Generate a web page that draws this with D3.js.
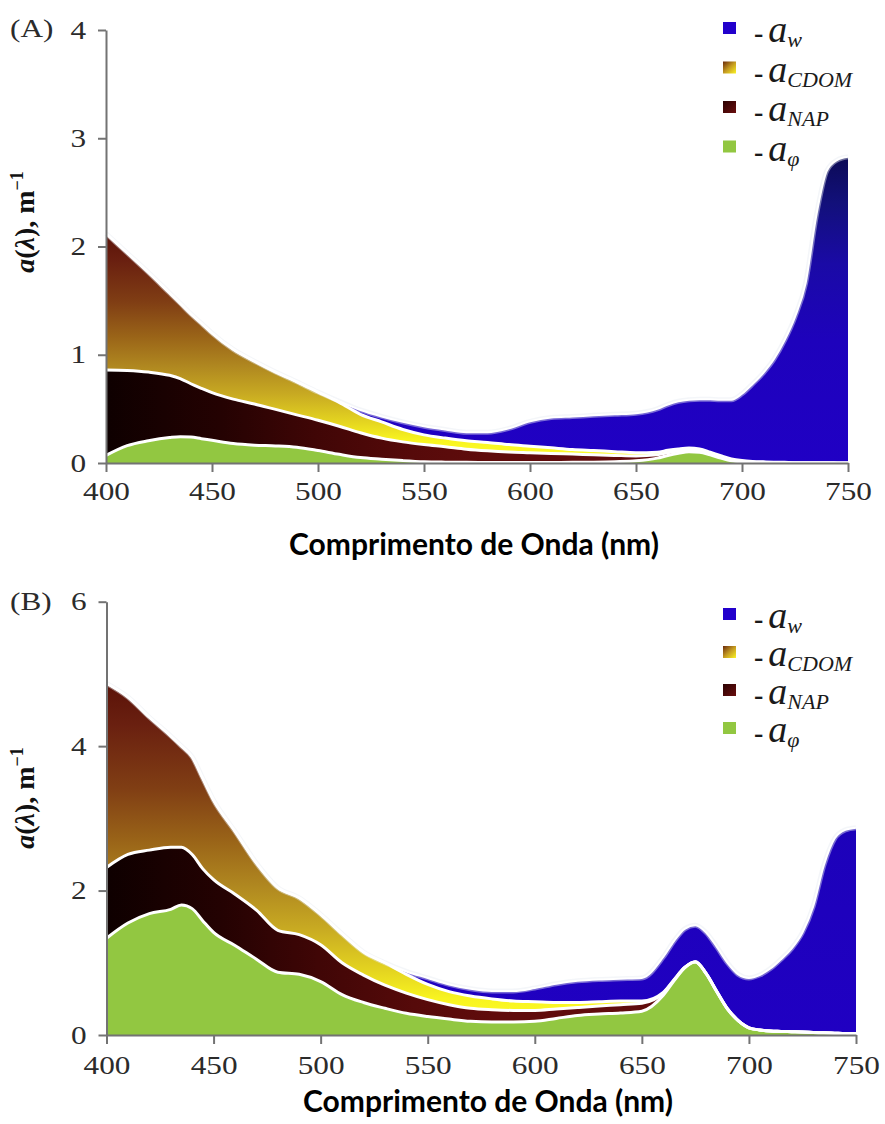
<!DOCTYPE html>
<html>
<head>
<meta charset="utf-8">
<script src="https://cdn.jsdelivr.net/npm/d3@7"></script>
<style>
  body { margin: 0; background: #fff; }
  svg { display: block; }
</style>
</head>
<body>
<svg id="chart" width="885" height="1124"></svg>
<script>
// Wavelength grid (nm)
const wavelengths = [400,410,420,430,435,440,445,450,460,470,480,490,500,510,520,530,540,550,560,570,580,590,600,610,620,630,640,650,660,665,670,675,680,685,690,695,700,705,710,715,720,725,730,735,740,745,750];

// Axis ticks
const xTicks = [400,450,500,550,600,650,700,750];
const yTicksA = [0,1,2,3,4];
const yTicksB = [0,2,4,6];

// Stack order, bottom to top
const seriesKeys = ["phy","nap","cdom","water"];

// Panel A absorption components (m^-1)
const phyA   = [0.07,0.16,0.205,0.235,0.243,0.24,0.225,0.21,0.18,0.165,0.158,0.145,0.115,0.08,0.05,0.035,0.022,0.012,0.008,0.006,0.005,0.005,0.005,0.005,0.006,0.008,0.012,0.02,0.045,0.07,0.09,0.105,0.1,0.075,0.045,0.02,0.01,0.005,0.003,0.002,0.001,0,0,0,0,0,0];
const napA   = [0.79,0.695,0.635,0.575,0.537,0.492,0.465,0.44,0.41,0.38,0.337,0.30,0.28,0.26,0.23,0.195,0.173,0.158,0.142,0.122,0.108,0.097,0.09,0.083,0.076,0.068,0.058,0.045,0.03,0.025,0.02,0.015,0.015,0.012,0.01,0.008,0.005,0.004,0.003,0.002,0.002,0.001,0.001,0.001,0.001,0,0];
const cdomA  = [1.26,1.085,0.92,0.76,0.695,0.645,0.60,0.55,0.46,0.395,0.345,0.305,0.26,0.22,0.17,0.15,0.115,0.09,0.08,0.077,0.077,0.068,0.06,0.052,0.043,0.039,0.035,0.03,0.025,0.022,0.02,0.018,0.015,0.013,0.012,0.01,0.008,0.006,0.005,0.004,0.003,0.002,0.002,0.001,0.001,0.001,0];
const waterA = [0,0,0,0,0,0,0,0,0,0,0,0,0,0.01,0.04,0.05,0.07,0.08,0.08,0.08,0.095,0.15,0.23,0.28,0.305,0.325,0.345,0.365,0.40,0.423,0.44,0.447,0.46,0.488,0.518,0.547,0.617,0.715,0.82,0.95,1.124,1.347,1.657,2.278,2.698,2.80,2.83];

// Panel B absorption components (m^-1)
const phyB   = [1.34,1.55,1.68,1.74,1.80,1.75,1.58,1.42,1.24,1.05,0.87,0.84,0.74,0.56,0.45,0.37,0.30,0.255,0.22,0.19,0.18,0.18,0.19,0.23,0.27,0.29,0.305,0.33,0.55,0.75,0.93,1.01,0.85,0.60,0.36,0.20,0.10,0.07,0.055,0.05,0.045,0.04,0.035,0.03,0.025,0.02,0.02];
const napB   = [0.98,0.95,0.88,0.86,0.80,0.75,0.72,0.73,0.71,0.68,0.58,0.55,0.51,0.44,0.38,0.32,0.28,0.235,0.20,0.18,0.17,0.16,0.15,0.13,0.11,0.11,0.115,0.11,0.03,0.01,0.005,0.005,0.003,0.002,0.001,0,0,0,0,0,0,0,0,0,0,0,0];
const cdomB  = [2.55,2.18,1.84,1.54,1.40,1.35,1.25,1.10,0.87,0.65,0.59,0.51,0.42,0.40,0.32,0.31,0.26,0.21,0.18,0.17,0.15,0.13,0.12,0.09,0.07,0.06,0.05,0.03,0.01,0.005,0,0,0,0,0,0,0,0,0,0,0,0,0,0,0,0,0];
const waterB = [0,0,0,0,0,0,0,0,0,0,0,0,0,0,0,0,0.04,0.09,0.10,0.10,0.11,0.14,0.19,0.26,0.30,0.31,0.31,0.32,0.49,0.535,0.535,0.505,0.567,0.618,0.639,0.64,0.69,0.76,0.865,1.0,1.155,1.38,1.745,2.32,2.695,2.82,2.85];

// Legend entries, top to bottom
const legendKeys = ["water","cdom","nap","phy"];
const legendSubs = ["w","CDOM","NAP","\u03C6"];

const xTitle = "Comprimento de Onda (nm)";

const panels = [
  { id: "A", letter: "(A)", letterY: 37, x0: 106, x1: 848, yTop: 30, yBottom: 463, yMax: 4,
    yTicks: yTicksA, series: { phy: phyA, nap: napA, cdom: cdomA, water: waterA },
    legendTop: 22, legendStep: 39.5, yLabelY: 222, titleX: 474, titleY: 555, xPad: 10 },
  { id: "B", letter: "(B)", letterY: 610, x0: 106.5, x1: 856, yTop: 601.7, yBottom: 1035, yMax: 6,
    yTicks: yTicksB, series: { phy: phyB, nap: napB, cdom: cdomB, water: waterB },
    legendTop: 608, legendStep: 38, yLabelY: 798, titleX: 488, titleY: 1112, xPad: 12 }
];

const svg = d3.select("#chart");
const defs = svg.append("defs");

function linGrad(id, attrs, stops) {
  const g = defs.append("linearGradient").attr("id", id);
  Object.entries(attrs).forEach(([k, v]) => g.attr(k, v));
  stops.forEach(([o, c]) => g.append("stop").attr("offset", o).attr("stop-color", c));
  return `url(#${id})`;
}

// CDOM: reddish brown at the top fading through gold to yellow at the bottom
const cdomFill = linGrad("cdomGrad", { x1: 0, y1: 0, x2: 0, y2: 1 }, [
  [0, "#5a1208"], [0.12, "#6a2010"], [0.3, "#803e14"], [0.45, "#9a6418"],
  [0.58, "#b08820"], [0.7, "#c8aa22"], [0.82, "#e4d420"], [0.9, "#f8f420"], [1, "#ffff30"]
]);

// Legend swatch gradients
const legendFill = {
  water: "#2200cc",
  cdom: linGrad("cdomSwatch", { x1: 0, y1: 0, x2: 1, y2: 1 }, [[0, "#6a2a0c"], [0.5, "#c49a22"], [1, "#fcf424"]]),
  nap: linGrad("napSwatch", { x1: 0, y1: 0, x2: 1, y2: 1 }, [[0, "#2a0202"], [1, "#6a0e0e"]]),
  phy: "#92c741"
};

panels.forEach(p => {
  const x = d3.scaleLinear().domain([400, 750]).range([p.x0, p.x1]);
  const y = d3.scaleLinear().domain([0, p.yMax]).range([p.yBottom, p.yTop]);

  const rows = wavelengths.map((wl, i) => {
    const r = { wl };
    seriesKeys.forEach(k => { r[k] = p.series[k][i]; });
    return r;
  });
  const stacked = d3.stack().keys(seriesKeys)(rows);

  // Non-algal particles: near black on the blue side, maroon toward longer wavelengths
  const napFill = linGrad("napGrad" + p.id,
    { gradientUnits: "userSpaceOnUse", x1: x(400), y1: 0, x2: x(580), y2: 0 },
    [[0, "#0e0000"], [0.3, "#240202"], [0.55, "#400606"], [0.8, "#560a0a"], [1, "#600c0c"]]);

  const waterFill = p.id === "A"
    ? linGrad("waterGrad" + p.id, { x1: 0, y1: 0, x2: 0, y2: 1 },
        [[0, "#0c0a56"], [0.15, "#12107a"], [0.35, "#1a0aa6"], [0.6, "#1e02bc"], [1, "#2000c4"]])
    : linGrad("waterGrad" + p.id, { x1: 0, y1: 0, x2: 0, y2: 1 },
        [[0, "#1806a8"], [0.3, "#1c02b8"], [1, "#2000c2"]]);

  const fills = { phy: "#92c741", nap: napFill, cdom: cdomFill, water: waterFill };

  const area = d3.area()
    .x(d => x(d.data.wl))
    .y0(d => y(d[0]))
    .y1(d => y(d[1]))
    .curve(d3.curveMonotoneX);

  const topLine = d3.line()
    .x(d => x(d.data.wl))
    .y(d => y(d[1]))
    .curve(d3.curveMonotoneX);

  const g = svg.append("g").attr("class", "panel-" + p.id);

  g.selectAll("path.layer")
    .data(stacked)
    .join("path")
    .attr("class", "layer")
    .attr("d", area)
    .attr("fill", d => fills[d.key]);

  // Soft halo along the outer envelope
  g.append("path")
    .attr("d", topLine(stacked[stacked.length - 1]))
    .attr("fill", "none")
    .attr("stroke", "#e6ebf1")
    .attr("stroke-width", 5)
    .attr("stroke-opacity", 0.45);

  // White boundaries between the component layers
  g.selectAll("path.edge")
    .data(stacked)
    .join("path")
    .attr("class", "edge")
    .attr("d", topLine)
    .attr("fill", "none")
    .attr("stroke", "#ffffff")
    .attr("stroke-width", d => d.key === "water" ? 2 : 3)
    .attr("stroke-linejoin", "round");

  // Axes
  const axisColor = "#737373";
  const yAxis = g.append("g")
    .attr("transform", `translate(${p.x0},0)`)
    .call(d3.axisLeft(y).tickValues(p.yTicks).tickFormat(d3.format("d")).tickSize(8).tickPadding(8).tickSizeOuter(0));
  const xAxis = g.append("g")
    .attr("transform", `translate(0,${p.yBottom})`)
    .call(d3.axisBottom(x).tickValues(xTicks).tickFormat(d3.format("d")).tickSize(9).tickPadding(p.xPad).tickSizeOuter(0));

  [yAxis, xAxis].forEach(ax => {
    ax.select(".domain").attr("stroke", axisColor).attr("stroke-width", 2);
    ax.selectAll(".tick line").attr("stroke", axisColor).attr("stroke-width", 2);
    ax.selectAll(".tick text")
      .attr("fill", "#2b2b2b")
      .style("font-family", "'Liberation Serif', 'DejaVu Serif', serif")
      .style("font-size", "25px")
      .attr("transform", "scale(1.25,1)");
  });

  // Panel letter
  svg.append("text")
    .attr("transform", `translate(10,${p.letterY}) scale(1.25,1)`)
    .style("font-family", "'Liberation Serif', serif")
    .style("font-size", "25px")
    .attr("fill", "#2b2b2b")
    .text(p.letter);

  // Y axis title: a(λ), m^-1
  const yl = svg.append("text")
    .attr("transform", `translate(34,${p.yLabelY}) rotate(-90)`)
    .attr("text-anchor", "middle")
    .style("font-family", "'Liberation Serif', serif")
    .style("font-size", "28px")
    .style("font-weight", "bold")
    .attr("fill", "#111");
  yl.append("tspan").style("font-style", "italic").text("a");
  yl.append("tspan").text("(");
  yl.append("tspan").style("font-style", "italic").text("\u03BB");
  yl.append("tspan").text("), m");
  yl.append("tspan").attr("dy", -11).style("font-size", "18px").text("\u22121");

  // X axis title
  svg.append("text")
    .attr("x", p.titleX)
    .attr("y", p.titleY)
    .attr("text-anchor", "middle")
    .style("font-family", "Lato, 'Open Sans', sans-serif")
    .style("font-size", "30px")
    .style("font-weight", "bold")
    .attr("fill", "#000")
    .text(xTitle);

  // Legend
  const lg = svg.append("g").attr("class", "legend-" + p.id);
  legendKeys.forEach((k, i) => {
    const top = p.legendTop + i * p.legendStep;
    lg.append("rect")
      .attr("x", 723).attr("y", top)
      .attr("width", 13).attr("height", 12)
      .attr("fill", legendFill[k]);
    const t = lg.append("text")
      .attr("x", 754).attr("y", top + 20)
      .style("font-family", "'Liberation Serif', serif")
      .attr("fill", "#1a1a1a");
    t.append("tspan").style("font-size", "28px").style("font-weight", "bold").text("-");
    t.append("tspan").attr("dx", 5).style("font-size", "38px").style("font-style", "italic").text("a");
    t.append("tspan").attr("dy", 5).style("font-size", "22px").style("font-style", "italic").text(legendSubs[i]);
  });
});
</script>
</body>
</html>
